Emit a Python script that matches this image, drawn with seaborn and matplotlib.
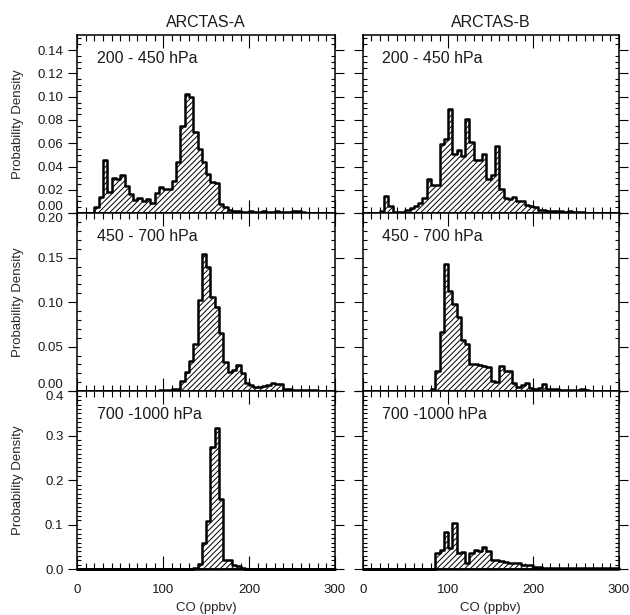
import numpy as np
import pandas as pd
import matplotlib
matplotlib.use("Agg")
import matplotlib.pyplot as plt
import seaborn as sns
from matplotlib.ticker import MultipleLocator, FormatStrFormatter

# CO bins, 5 ppbv wide from 0 to 300
bin_width = 5
bin_left = np.arange(0, 300, bin_width)

# probability density per bin, one row of 10 bins per 50 ppbv
a_200_450 = [0, 0, 0, 0, 0.005, 0.014, 0.046, 0.018, 0.030, 0.029,
             0.033, 0.023, 0.016, 0.011, 0.013, 0.010, 0.012, 0.009, 0.017, 0.022,
             0.021, 0.021, 0.028, 0.044, 0.075, 0.102, 0.100, 0.070, 0.055, 0.044,
             0.034, 0.027, 0.026, 0.008, 0.005, 0.003, 0.002, 0.002, 0.001, 0.001,
             0.002, 0.001, 0.001, 0.002, 0.001, 0.001, 0.002, 0.001, 0.001, 0.001,
             0.002, 0.002, 0.001, 0, 0, 0, 0, 0, 0, 0]
b_200_450 = [0, 0, 0, 0, 0.002, 0.015, 0.006, 0.001, 0.001, 0.001,
             0.003, 0.004, 0.006, 0.009, 0.013, 0.029, 0.024, 0.024, 0.059, 0.064,
             0.089, 0.051, 0.054, 0.049, 0.081, 0.061, 0.046, 0.046, 0.051, 0.029,
             0.033, 0.058, 0.021, 0.013, 0.012, 0.014, 0.010, 0.010, 0.007, 0.006,
             0.005, 0.003, 0.003, 0.002, 0.002, 0.002, 0.002, 0.001, 0.002, 0.001,
             0.001, 0.001, 0, 0, 0, 0, 0, 0, 0, 0]
a_450_700 = [0, 0, 0, 0, 0, 0, 0, 0, 0, 0,
             0, 0, 0, 0, 0, 0, 0, 0, 0, 0.001,
             0.001, 0.001, 0.002, 0.003, 0.011, 0.022, 0.034, 0.053, 0.102, 0.154,
             0.140, 0.106, 0.094, 0.065, 0.033, 0.021, 0.024, 0.029, 0.020, 0.009,
             0.007, 0.005, 0.005, 0.006, 0.007, 0.009, 0.008, 0.008, 0.003, 0.002,
             0.001, 0.001, 0.001, 0.001, 0.001, 0.001, 0, 0, 0, 0]
b_450_700 = [0, 0, 0, 0, 0, 0, 0, 0, 0, 0,
             0, 0, 0, 0, 0, 0, 0.003, 0.023, 0.066, 0.143,
             0.112, 0.098, 0.083, 0.057, 0.053, 0.031, 0.030, 0.029, 0.028, 0.027,
             0.012, 0.010, 0.028, 0.023, 0.023, 0.009, 0.005, 0.007, 0.009, 0.004,
             0.003, 0.004, 0.008, 0.003, 0.002, 0.002, 0.001, 0.001, 0.001, 0.001,
             0.001, 0.002, 0.001, 0, 0, 0, 0, 0, 0, 0]
a_700_1000 = [0, 0, 0, 0, 0, 0, 0, 0, 0, 0,
              0, 0, 0, 0, 0, 0, 0, 0, 0, 0,
              0, 0, 0, 0, 0, 0, 0, 0.004, 0.012, 0.058,
              0.108, 0.275, 0.318, 0.157, 0.022, 0.022, 0.010, 0.008, 0.002, 0.001,
              0, 0, 0, 0, 0, 0, 0, 0, 0, 0,
              0, 0, 0, 0, 0, 0, 0, 0, 0, 0]
b_700_1000 = [0, 0, 0, 0, 0, 0, 0, 0, 0, 0,
              0, 0, 0, 0, 0, 0, 0, 0.036, 0.044, 0.083,
              0.047, 0.105, 0.036, 0.038, 0.015, 0.036, 0.044, 0.041, 0.049, 0.040,
              0.021, 0.020, 0.019, 0.016, 0.015, 0.015, 0.014, 0.010, 0.010, 0.009,
              0.006, 0.006, 0.003, 0.002, 0.003, 0.004, 0.004, 0.003, 0.003, 0.004,
              0.003, 0.002, 0.002, 0.002, 0.002, 0.002, 0.003, 0.002, 0.002, 0.002]

campaigns = ["ARCTAS-A", "ARCTAS-B"]
layers = ["200 - 450 hPa", "450 - 700 hPa", "700 -1000 hPa"]
panels = [[a_200_450, b_200_450], [a_450_700, b_450_700], [a_700_1000, b_700_1000]]
y_max = [0.153, 0.20, 0.40]
y_ticks = [[0.00, 0.02, 0.04, 0.06, 0.08, 0.10, 0.12, 0.14],
           [0.00, 0.05, 0.10, 0.15, 0.20],
           [0.0, 0.1, 0.2, 0.3, 0.4]]
y_minor = [0.005, 0.01, 0.01]
y_fmt = ["%.2f", "%.2f", "%.1f"]

sns.set_style("ticks")
plt.rcParams["font.family"] = ["Liberation Sans", "DejaVu Sans"]
plt.rcParams["hatch.linewidth"] = 0.7
plt.rcParams["hatch.color"] = "black"
plt.rcParams["axes.linewidth"] = 1.1
plt.rcParams["axes.edgecolor"] = "black"
plt.rcParams["text.color"] = "#1a1a1a"
plt.rcParams["xtick.color"] = "black"
plt.rcParams["ytick.color"] = "black"
plt.rcParams["xtick.labelcolor"] = "#1a1a1a"
plt.rcParams["ytick.labelcolor"] = "#1a1a1a"

W, H = 630, 615
fig = plt.figure(figsize=(6.3, 6.15), dpi=100)
col_x = [(77.3, 257.7), (362.7, 256.0)]
row_h = 178.1
top = 35.0

for r in range(3):
    for c in range(2):
        x0, w = col_x[c]
        y_top = top + r * row_h
        ax = fig.add_axes([x0 / W, 1 - (y_top + row_h) / H, w / W, row_h / H])
        df = pd.DataFrame({"co": bin_left + bin_width / 2, "density": panels[r][c]})
        sns.histplot(data=df, x="co", weights="density", binwidth=bin_width,
                     binrange=(0, 300), element="step", fill=True,
                     facecolor="white", edgecolor="black", linewidth=1.8,
                     hatch="//////", clip_on=False, ax=ax)
        ax.set_xlim(0, 300)
        ax.set_ylim(0, y_max[r])
        ax.set_xticks([0, 100, 200, 300])
        ax.xaxis.set_minor_locator(MultipleLocator(10))
        ax.set_yticks(y_ticks[r])
        ax.yaxis.set_minor_locator(MultipleLocator(y_minor[r]))
        ax.yaxis.set_major_formatter(FormatStrFormatter(y_fmt[r]))
        ax.tick_params(axis="x", which="both", direction="in", top=True,
                       bottom=True, width=0.8, labelsize=9.5)
        ax.tick_params(axis="x", which="major", length=9.5, pad=10.5)
        ax.tick_params(axis="x", which="minor", length=4.3)
        ax.tick_params(axis="y", which="major", direction="out", length=6.5,
                       left=True, right=True, width=0.8, pad=3.5, labelsize=9.5)
        ax.tick_params(axis="y", which="minor", direction="in", length=3,
                       left=True, right=True, width=0.8)
        for s in ax.spines.values():
            s.set_visible(True)
            s.set_linewidth(1.1)

        if r == 2:
            ax.set_xlabel("CO (ppbv)", fontsize=9.5)
            ax.xaxis.set_label_coords(0.5, -0.184)
        else:
            ax.set_xlabel("")
            ax.tick_params(axis="x", labelbottom=False)
        if c == 0:
            ax.set_ylabel("Probability Density", fontsize=9.5)
            ax.yaxis.set_label_coords(-0.207, 0.5)
        else:
            ax.set_ylabel("")
            ax.tick_params(axis="y", labelleft=False)
        if r == 0:
            ax.set_title(campaigns[c], fontsize=11.5, pad=5.5)

        ax.text(0.075, 0.87, layers[r], transform=ax.transAxes,
                fontsize=11.5, ha="left", va="center")

        # keep the labels at the panel joins apart, as in the original
        if c == 0:
            ticks = ax.yaxis.get_major_ticks()
            if r < 2:
                ticks[0].label1.set_verticalalignment("bottom")
            if r > 0:
                ticks[len(y_ticks[r]) - 1].label1.set_verticalalignment("top")

fig.savefig("out.png", dpi=100)
